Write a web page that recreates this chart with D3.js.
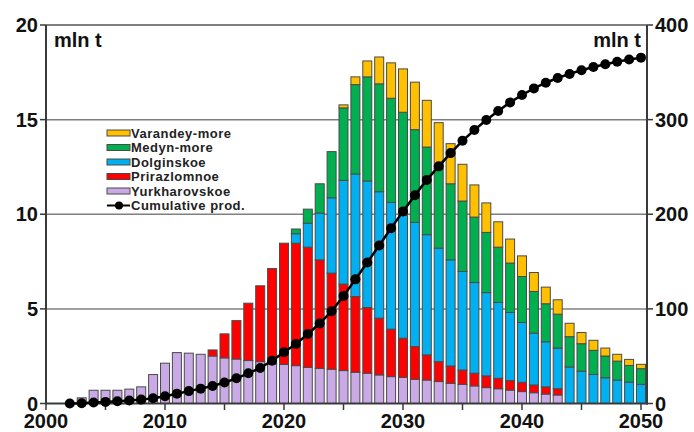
<!DOCTYPE html>
<html>
<head>
<meta charset="utf-8">
<script src="https://cdn.jsdelivr.net/npm/d3@7"></script>
<style>
  body { margin: 0; background: #fff; }
  svg { display: block; font-family: "Liberation Sans", Arial, sans-serif; }
</style>
</head>
<body>
<svg id="chart" width="694" height="432"></svg>
<script>
// years 2002..2050
const years = d3.range(2002, 2051);

const yurkharovskoe = [0, 0.3, 0.7, 0.7, 0.7, 0.76, 0.88, 1.53, 2.13, 2.69, 2.66, 2.6,
  2.51, 2.41, 2.35, 2.27, 2.21, 2.1, 2.06, 2.0, 1.91, 1.86, 1.81, 1.74, 1.65, 1.6,
  1.51, 1.42, 1.38, 1.28, 1.24, 1.16, 1.07, 1.01, 0.93, 0.84, 0.78, 0.71, 0.63, 0.57,
  0.5, 0.45, 0, 0, 0, 0, 0, 0, 0];
const prirazlomnoe = [0, 0, 0, 0, 0, 0, 0, 0, 0, 0, 0, 0,
  0.32, 1.27, 2.03, 3.03, 4.01, 5.03, 6.41, 6.47, 6.35, 5.73, 5.08, 4.57, 4.0, 3.47,
  3.0, 2.51, 2.07, 1.73, 1.33, 1.05, 0.91, 0.76, 0.67, 0.62, 0.55, 0.5, 0.49, 0.41,
  0.38, 0.33, 0, 0, 0, 0, 0, 0, 0];
const dolginskoe = [0, 0, 0, 0, 0, 0, 0, 0, 0, 0, 0, 0,
  0, 0, 0, 0, 0, 0, 0, 0.5, 1.27, 2.47, 3.98, 5.48, 6.48, 6.69,
  6.68, 6.7, 6.49, 6.56, 6.35, 6.0, 5.61, 5.21, 4.79, 4.4, 4.01, 3.6, 3.16, 2.74,
  2.38, 2.15, 1.93, 1.71, 1.54, 1.36, 1.24, 1.13, 1.01];
const medynMore = [0, 0, 0, 0, 0, 0, 0, 0, 0, 0, 0, 0,
  0, 0, 0, 0, 0, 0, 0, 0.25, 0.74, 1.55, 2.44, 3.83, 4.72, 5.5,
  5.7, 5.5, 5.45, 4.9, 4.63, 4.19, 4.02, 3.72, 3.46, 3.18, 2.92, 2.61, 2.43, 2.2,
  2.01, 1.79, 1.6, 1.45, 1.27, 1.15, 1.0, 0.88, 0.83];
const varandeyMore = [0, 0, 0, 0, 0, 0, 0, 0, 0, 0, 0, 0,
  0, 0, 0, 0, 0, 0, 0, 0, 0, 0, 0, 0.16, 0.41, 0.84,
  1.42, 1.87, 2.29, 2.51, 2.47, 2.44, 2.12, 1.94, 1.7, 1.56, 1.34, 1.27, 1.09, 1.0,
  0.88, 0.76, 0.71, 0.59, 0.53, 0.42, 0.36, 0.32, 0.23];
const cumulative = [0, 0.3, 1, 1.7, 2.4, 3.2, 4.1, 5.6, 7.7, 10.4, 13.1, 15.7,
  18.5, 22.2, 26.6, 31.9, 37.5, 45.3, 54.1, 62.9, 73.4, 84.5, 97.5, 113.6, 131.2, 149,
  167, 185.3, 203, 220, 236.3, 250.6, 264.6, 277.6, 289, 299.6, 309.2, 318.2, 326, 333,
  339, 344, 348.3, 352.2, 355.6, 358.6, 361.2, 363.5, 365.5];

const seriesNames = ["Yurkharovskoe", "Prirazlomnoe", "Dolginskoe", "Medyn-more", "Varandey-more"];
const seriesValues = [yurkharovskoe, prirazlomnoe, dolginskoe, medynMore, varandeyMore];
const colors = ["#C9A9E6", "#FF0000", "#00B0F0", "#00B050", "#FFC000"];
const leftTicks = [0, 5, 10, 15, 20];
const rightTicks = [0, 100, 200, 300, 400];
const xLabels = [2000, 2010, 2020, 2030, 2040, 2050];
const xTicks = d3.range(2000, 2051, 5);

const svg = d3.select("#chart");
const x = d3.scaleLinear().domain([2000, 2050]).range([46, 641]);
const y = d3.scaleLinear().domain([0, 20]).range([403.5, 25]);
const y2 = d3.scaleLinear().domain([0, 400]).range([403.5, 25]);
const left = 46, right = 647;

// table for stack
const table = years.map((yr, i) => {
  const row = { year: yr };
  seriesNames.forEach((n, k) => row[n] = seriesValues[k][i]);
  return row;
});
const stacked = d3.stack().keys(seriesNames)(table);

// gridlines
svg.append("g").selectAll("line")
  .data(leftTicks.filter(d => d > 0))
  .join("line")
  .attr("x1", left).attr("x2", right)
  .attr("y1", d => y(d)).attr("y2", d => y(d))
  .attr("stroke", d => d === 20 ? "#555" : "#7f7f7f")
  .attr("stroke-width", 1.5);

// bars
const bw = 9;
svg.append("g").selectAll("g")
  .data(stacked)
  .join("g")
  .attr("fill", (d, i) => colors[i])
  .selectAll("rect")
  .data(d => d.filter(p => p[1] - p[0] > 0))
  .join("rect")
  .attr("x", d => x(d.data.year) - bw / 2)
  .attr("y", d => y(d[1]))
  .attr("width", bw)
  .attr("height", d => y(d[0]) - y(d[1]))
  .attr("stroke", "#4a4a4a")
  .attr("stroke-width", 1);

// axes lines
const axisCol = "#3a3a3a";
svg.append("line").attr("x1", left).attr("x2", left).attr("y1", 25).attr("y2", 404.5)
  .attr("stroke", axisCol).attr("stroke-width", 2);
svg.append("line").attr("x1", right).attr("x2", right).attr("y1", 25).attr("y2", 404.5)
  .attr("stroke", axisCol).attr("stroke-width", 2);
svg.append("line").attr("x1", left - 1).attr("x2", right + 1).attr("y1", 403.5).attr("y2", 403.5)
  .attr("stroke", axisCol).attr("stroke-width", 2);

// tick marks
svg.append("g").selectAll("line").data(leftTicks).join("line")
  .attr("x1", left - 6).attr("x2", left).attr("y1", d => y(d)).attr("y2", d => y(d))
  .attr("stroke", axisCol).attr("stroke-width", 1.5);
svg.append("g").selectAll("line").data(rightTicks).join("line")
  .attr("x1", right).attr("x2", right + 6).attr("y1", d => y2(d)).attr("y2", d => y2(d))
  .attr("stroke", axisCol).attr("stroke-width", 1.5);
svg.append("g").selectAll("line").data(xTicks).join("line")
  .attr("x1", d => x(d)).attr("x2", d => x(d)).attr("y1", 403.5).attr("y2", 410)
  .attr("stroke", axisCol).attr("stroke-width", 1.5);

// tick labels
const lab = { "font-size": "20px", "font-weight": "bold", fill: "#111" };
function style(sel) { Object.entries(lab).forEach(([k, v]) => sel.style(k, v)); return sel; }
style(svg.append("g").selectAll("text").data(leftTicks).join("text")
  .attr("x", 38).attr("y", d => y(d)).attr("dy", "0.36em")
  .attr("text-anchor", "end").text(d => d));
style(svg.append("g").selectAll("text").data(rightTicks).join("text")
  .attr("x", 655).attr("y", d => y2(d)).attr("dy", "0.36em")
  .attr("text-anchor", "start").text(d => d));
style(svg.append("g").selectAll("text").data(xLabels).join("text")
  .attr("x", d => x(d)).attr("y", 428)
  .attr("text-anchor", "middle").text(d => d));

// unit labels
style(svg.append("text").attr("x", 54).attr("y", 47).style("font-size", "21px").text("mln t"));
style(svg.append("text").attr("x", 641).attr("y", 47).style("font-size", "21px")
  .attr("text-anchor", "end").text("mln t"));

// cumulative line
const cumData = years.map((yr, i) => ({ year: yr, v: cumulative[i] }));
svg.append("path")
  .datum(cumData)
  .attr("fill", "none")
  .attr("stroke", "#000")
  .attr("stroke-width", 2.5)
  .attr("d", d3.line().x(d => x(d.year)).y(d => y2(d.v)));
svg.append("g").selectAll("circle").data(cumData).join("circle")
  .attr("cx", d => x(d.year)).attr("cy", d => y2(d.v)).attr("r", 5)
  .attr("fill", "#000");

// legend
const legendItems = seriesNames.map((n, i) => ({ name: n, color: colors[i] })).reverse();
const lg = svg.append("g").attr("transform", "translate(107,133)");
legendItems.forEach((d, i) => {
  const g = lg.append("g").attr("transform", `translate(0,${i * 14.5})`);
  g.append("rect").attr("x", 0).attr("y", -3).attr("width", 23).attr("height", 6)
    .attr("fill", d.color).attr("stroke", "#4a4a4a").attr("stroke-width", 1);
  g.append("text").attr("x", 24).attr("y", 0).attr("dy", "0.36em")
    .style("font-size", "13px").style("font-weight", "bold").style("fill", "#222")
    .style("letter-spacing", "0.5px")
    .text(d.name);
});
const cg = lg.append("g").attr("transform", `translate(0,${5 * 14.5})`);
cg.append("line").attr("x1", 0).attr("x2", 23).attr("stroke", "#000").attr("stroke-width", 2);
cg.append("circle").attr("cx", 12).attr("cy", 0).attr("r", 4).attr("fill", "#000");
cg.append("text").attr("x", 24).attr("y", 0).attr("dy", "0.36em")
  .style("font-size", "13px").style("font-weight", "bold").style("fill", "#222")
  .style("letter-spacing", "0.5px")
  .text("Cumulative prod.");
</script>
</body>
</html>
